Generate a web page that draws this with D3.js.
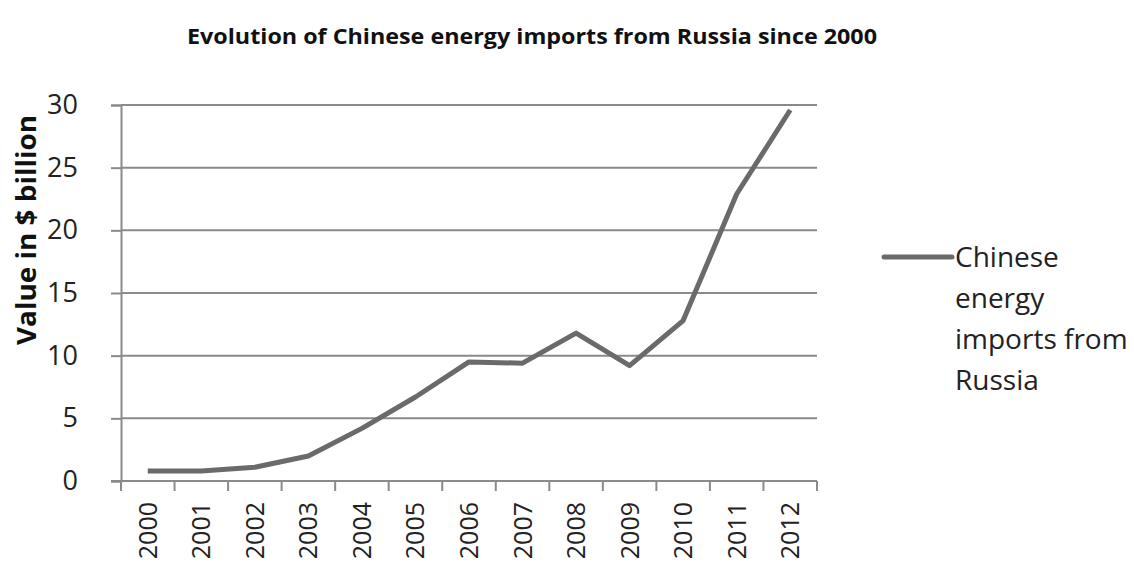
<!DOCTYPE html>
<html><head><meta charset="utf-8">
<script src="https://cdn.jsdelivr.net/npm/d3@7"></script>
<style>body{margin:0;background:#fff}</style>
</head><body>
<svg id="c" width="1134" height="568"></svg>
<script>
const years = ["2000","2001","2002","2003","2004","2005","2006","2007","2008","2009","2010","2011","2012"];
const values = [0.8,0.8,1.1,2.0,4.2,6.7,9.5,9.4,11.8,9.2,12.8,22.9,29.6];
const yTicks = [0,5,10,15,20,25,30];
const title = "Evolution of Chinese energy imports from Russia since 2000";
const yLabel = "Value in $ billion";
const legendLines = ["Chinese","energy","imports from","Russia"];

const svg = d3.select("#c");
const m = {l:121, r:817, t:105, b:481};
const x = d3.scaleBand().domain(years).range([m.l, m.r]);
const y = d3.scaleLinear().domain([0,30]).range([m.b, m.t]);
const font = "'Open Sans', 'DejaVu Sans', sans-serif";

svg.append("text").attr("x",532).attr("y",44).attr("text-anchor","middle")
  .attr("font-family","'Open Sans', sans-serif").attr("font-weight","bold")
  .attr("font-size",22).attr("textLength",690).attr("lengthAdjust","spacingAndGlyphs")
  .attr("fill","#111").text(title);

// gridlines
svg.append("g").selectAll("line").data(yTicks.filter(d=>d>0)).join("line")
  .attr("x1",m.l).attr("x2",m.r).attr("y1",d=>y(d)).attr("y2",d=>y(d))
  .attr("stroke","#8a8a8a").attr("stroke-width",2);

// y axis
const ya = svg.append("g").attr("transform",`translate(${m.l},0)`)
  .call(d3.axisLeft(y).tickValues(yTicks).tickSize(10).tickPadding(33));
ya.select(".domain").attr("stroke","#8a8a8a").attr("stroke-width",2);
ya.selectAll(".tick line").attr("stroke","#8a8a8a").attr("stroke-width",2);
ya.selectAll(".tick text").attr("font-family",font).attr("font-size",27).attr("fill","#222");

// x axis
const xa = svg.append("g").attr("transform",`translate(0,${m.b})`)
  .call(d3.axisBottom(x).tickSize(0).tickPadding(0));
xa.select(".domain").remove();
const bounds = years.map(d=>x(d)).concat([m.r]);
xa.selectAll(".bt").data(bounds).join("line").attr("class","bt")
  .attr("x1",d=>d).attr("x2",d=>d).attr("y1",0).attr("y2",10)
  .attr("stroke","#8a8a8a").attr("stroke-width",2);
xa.append("line").attr("x1",m.l-10).attr("x2",m.r).attr("y1",0).attr("y2",0)
  .attr("stroke","#8a8a8a").attr("stroke-width",2);
xa.selectAll(".tick text").attr("font-family",font).attr("font-size",25).attr("fill","#222")
  .attr("transform","rotate(-90)").attr("text-anchor","end").attr("x",-21).attr("y",0).attr("dy","0.36em");

// y label
svg.append("text").attr("transform","translate(36,230) rotate(-90)").attr("text-anchor","middle")
  .attr("font-family",font).attr("font-weight","bold").attr("font-size",26)
  .attr("textLength",230).attr("lengthAdjust","spacingAndGlyphs")
  .attr("fill","#111").text(yLabel);

// line
const line = d3.line().x((d,i)=>x(years[i])+x.bandwidth()/2).y(d=>y(d));
svg.append("path").datum(values).attr("d",line).attr("fill","none")
  .attr("stroke","#6a6a6a").attr("stroke-width",5).attr("stroke-linejoin","round");

// legend
svg.append("line").attr("x1",884).attr("x2",952).attr("y1",257).attr("y2",257)
  .attr("stroke","#6a6a6a").attr("stroke-width",5).attr("stroke-linecap","round");
svg.append("g").selectAll("text").data(legendLines).join("text")
  .attr("x",955).attr("y",(d,i)=>267+i*41).attr("font-family",font).attr("font-size",28).attr("fill","#222").text(d=>d);
</script>
</body></html>
